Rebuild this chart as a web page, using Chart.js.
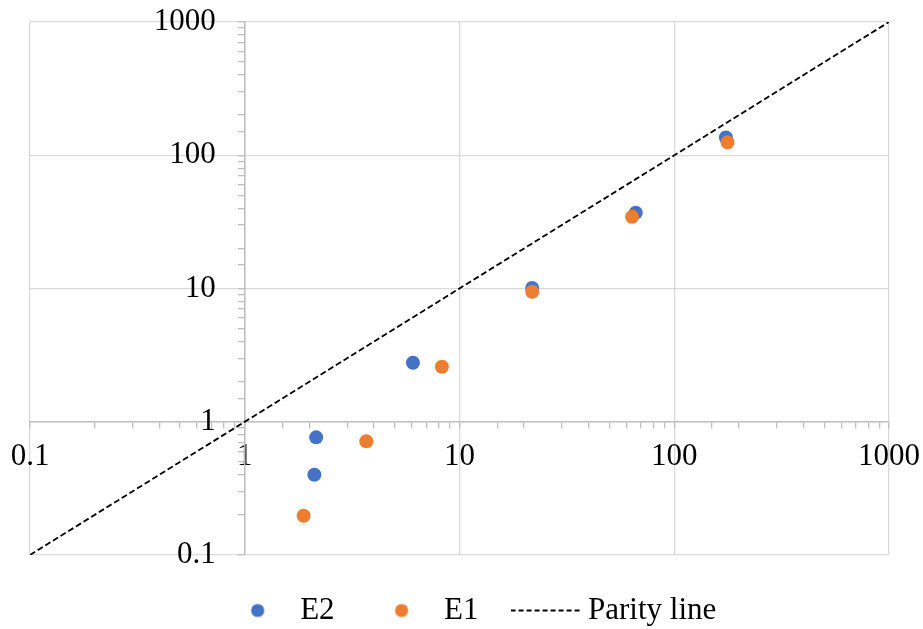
<!DOCTYPE html>
<html>
<head>
<meta charset="utf-8">
<script src="https://cdn.jsdelivr.net/npm/chart.js@4/dist/chart.umd.min.js"></script>
<style>
  html, body { margin: 0; padding: 0; background: #ffffff; }
  #wrap { width: 923px; height: 629px; }
</style>
</head>
<body>
<div id="wrap"><canvas id="parityChart" width="923" height="629"></canvas></div>
<script>
// values
const e2X = [2.11, 2.15, 6.07, 21.8, 66.2, 174];
const e2Y = [0.40, 0.764, 2.77, 10.1, 37.0, 136];

const e1X = [1.88, 3.68, 8.28, 21.8, 63.6, 177];
const e1Y = [0.197, 0.713, 2.59, 9.45, 34.5, 125];

const parityX = [0.1, 1000];
const parityY = [0.1, 1000];

const axisMin = 0.1;
const axisMax = 1000;

const seriesNames = ["E2", "E1", "Parity line"];


const BLUE = "#4472C4";
const ORANGE = "#ED7D31";
const GRID = "#d9d9d9";
const AXIS = "#bfbfbf";
const FONT = "'Liberation Serif', 'Times New Roman', serif";
const FONT_SIZE = 31;


function toPoints(xs, ys) {

    return xs.map((x, i) => ({ x: x, y: ys[i] }));

}


function isDecade(v) {

    const l = Math.log10(v);

    return Math.abs(l - Math.round(l)) < 1e-6;

}


function decadeLabel(value) {

    return isDecade(value) ? String(value) : "";

}


// small images used as legend markers
function dotImage(color) {

    const c = document.createElement("canvas");

    c.width = 16;
    c.height = 16;

    const g = c.getContext("2d");

    g.fillStyle = color;
    g.beginPath();
    g.arc(8, 8, 6.6, 0, Math.PI * 2);
    g.fill();

    return c;

}


function dashImage() {

    const c = document.createElement("canvas");

    c.width = 70;
    c.height = 4;

    const g = c.getContext("2d");

    g.strokeStyle = "#000000";
    g.lineWidth = 1.8;
    g.setLineDash([5, 3]);
    g.beginPath();
    g.moveTo(0, 2);
    g.lineTo(70, 2);
    g.stroke();

    return c;

}


const legendMarks = [dotImage(BLUE), dotImage(ORANGE), dashImage()];


function logAxis(positionOn, value) {

    return {

        type: "logarithmic",

        min: axisMin,

        max: axisMax,

        position: { [positionOn]: value },

        border: {
            display: true,
            color: AXIS,
            width: 1.5
        },

        grid: {
            drawOnChartArea: true,
            drawTicks: true,
            tickLength: 6,
            lineWidth: 1.3,
            color: ctx => (ctx.tick && isDecade(ctx.tick.value)) ? GRID : "rgba(0,0,0,0)",
            tickColor: AXIS,
            tickWidth: 1.3
        },

        ticks: {
            autoSkip: false,
            maxRotation: 0,
            minRotation: 0,
            padding: 0,
            color: "#000000",
            font: { family: FONT, size: FONT_SIZE },
            callback: decadeLabel
        }

    };

}


// horizontal axis crosses at y = 1, labels just below it
const xAxis = logAxis("y", 1);
xAxis.ticks.padding = 11;
xAxis.afterFit = scale => {
    scale.paddingLeft = 0;
    scale.paddingRight = 0;
};

// vertical axis crosses at x = 1; its labels come from a label-only scale a bit to the left
const yAxis = logAxis("x", 1);
yAxis.ticks.display = false;

const yLabels = {
    type: "logarithmic",
    min: axisMin,
    max: axisMax,
    position: { x: 0.732 },
    border: { display: false },
    grid: { display: false },
    ticks: {
        autoSkip: false,
        padding: 0,
        color: "#000000",
        font: { family: FONT, size: FONT_SIZE },
        callback: decadeLabel
    }
};


// Excel puts the legend row slightly right of centre
const legendNudge = {

    id: "legendNudge",

    afterLayout(chart) {

        if (!chart.legend) return;

        chart.legend.left += 14;
        chart.legend.right += 14;

    }

};


new Chart(
    document.getElementById("parityChart"),
    {

        type: "scatter",

        data: {

            datasets: [

                {
                    label: seriesNames[0],
                    data: toPoints(e2X, e2Y),
                    backgroundColor: BLUE,
                    borderWidth: 0,
                    pointRadius: 7,
                    order: 2
                },

                {
                    label: seriesNames[1],
                    data: toPoints(e1X, e1Y),
                    backgroundColor: ORANGE,
                    borderWidth: 0,
                    pointRadius: 7,
                    order: 1
                },

                {
                    label: seriesNames[2],
                    data: toPoints(parityX, parityY),
                    showLine: true,
                    borderColor: "#000000",
                    borderWidth: 1.8,
                    borderDash: [6, 3],
                    pointRadius: 0,
                    order: 0
                }

            ]

        },

        options: {

            responsive: false,

            animation: false,

            layout: {
                padding: { top: 22, left: 30, right: 34, bottom: 0 }
            },

            scales: {
                x: xAxis,
                y: yAxis,
                yLabels: yLabels
            },

            plugins: {

                tooltip: { enabled: false },

                legend: {

                    position: "bottom",

                    maxHeight: 74,

                    labels: {

                        usePointStyle: true,
                        pointStyleWidth: 54,
                        padding: 40,
                        color: "#000000",
                        font: { family: FONT, size: FONT_SIZE },

                        generateLabels: chart => chart.data.datasets.map((ds, i) => ({
                            text: ds.label,
                            pointStyle: legendMarks[i],
                            fillStyle: "rgba(0,0,0,0)",
                            strokeStyle: "rgba(0,0,0,0)",
                            lineWidth: 0,
                            hidden: false,
                            datasetIndex: i,
                            fontColor: "#000000"
                        }))

                    }

                }

            }

        },

        plugins: [legendNudge]

    }

);
</script>
</body>
</html>
